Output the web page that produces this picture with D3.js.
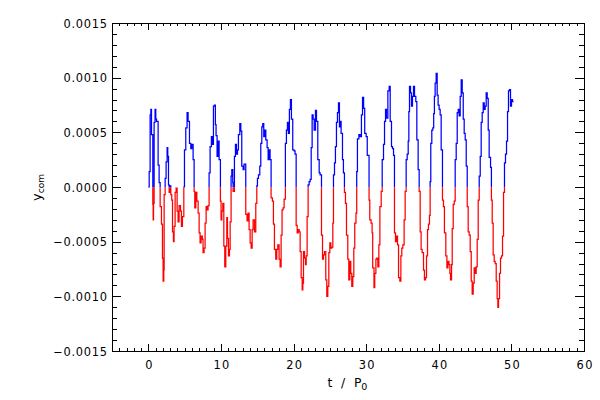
<!DOCTYPE html>
<html><head><meta charset="utf-8">
<script src="https://cdn.jsdelivr.net/npm/d3@7"></script>
<style>html,body{margin:0;padding:0;background:#fff;} svg{display:block;}</style>
</head><body>
<svg id="chart" width="600" height="400"></svg>
<script>
// time (t / P0) at which each step level begins
const tTime = [
  0, 0.12, 0.25, 0.35, 0.44, 0.62, 0.67, 0.72, 0.8, 0.93, 1.03, 1.13, 1.35, 1.49, 1.63, 1.81, 1.95, 2.04, 2.13,
  2.18, 2.32, 2.45, 2.59, 2.68, 2.78, 2.87, 3.0, 3.1, 3.23, 3.33, 3.46, 3.55, 3.69, 3.83, 3.97, 4.1, 4.24, 4.43, 4.56, 4.7,
  4.89, 4.98, 5.16, 5.34, 5.48, 5.67, 5.85, 5.99, 6.17, 6.31, 6.4, 6.54, 6.68, 6.86, 7.0, 7.13, 7.27, 7.45, 7.54, 7.68, 7.82, 7.96, 8.1, 8.23,
  8.37, 8.51, 8.69, 8.83, 8.97, 9.1, 9.24, 9.33, 9.47, 9.61, 9.75, 9.93, 10.02, 10.12, 10.26, 10.4, 10.53, 10.67, 10.81, 10.9, 11.04, 11.18, 11.27,
  11.4, 11.5, 11.63, 11.68, 11.86, 12.0, 12.14, 12.28, 12.41, 12.6, 12.74, 12.87, 13.06, 13.19, 13.42, 13.6, 13.74, 13.88, 14.02, 14.16, 14.3, 14.43, 14.62, 14.8,
  14.94, 15.03, 15.17, 15.35, 15.49, 15.63, 15.76, 15.9, 16.04, 16.18, 16.36, 16.5, 16.63, 16.77, 16.91, 17.09, 17.23, 17.37, 17.55, 17.69, 17.83, 18.01, 18.15, 18.29, 18.42, 18.56, 18.7,
  18.88, 19.02, 19.16, 19.29, 19.43, 19.57, 19.71, 19.89, 20.07, 20.21, 20.36, 20.5, 20.64, 20.78, 20.91, 21.05, 21.19, 21.28, 21.37, 21.51, 21.65, 21.74, 21.87,
  22.01, 22.15, 22.29, 22.43, 22.56, 22.7, 22.84, 23.02, 23.16, 23.34, 23.53, 23.66, 23.85, 23.99, 24.12, 24.26, 24.44, 24.58, 24.72, 24.86, 25.0, 25.13, 25.27, 25.41,
  25.5, 25.64, 25.77, 25.91, 26.05, 26.19, 26.32, 26.46, 26.55, 26.74, 26.87, 27.01, 27.15, 27.29, 27.47, 27.61, 27.75, 27.88, 28.02, 28.16, 28.3, 28.43, 28.6,
  28.7, 28.8, 29.0, 29.17, 29.35, 29.5, 29.65, 29.8, 30.0, 30.15, 30.4, 30.5, 30.68, 30.82, 30.9, 31.08, 31.18, 31.34, 31.47, 31.61, 31.75, 31.89, 32.07,
  32.21, 32.39, 32.53, 32.67, 32.8, 32.99, 33.17, 33.31, 33.49, 33.63, 33.77, 33.9, 34.04, 34.18, 34.32, 34.46, 34.64, 34.78, 34.91, 35.05, 35.23, 35.37,
  35.51, 35.65, 35.79, 35.88, 35.97, 36.11, 36.24, 36.38, 36.52, 36.66, 36.84, 36.98, 37.16, 37.3, 37.44, 37.57, 37.71, 37.9, 38.03, 38.17, 38.31, 38.45, 38.58, 38.72,
  38.81, 38.9, 39.04, 39.18, 39.3, 39.4, 39.5, 39.64, 39.78, 39.91, 40.05, 40.19, 40.33, 40.51, 40.65, 40.78, 40.97, 41.12, 41.26, 41.4, 41.53, 41.62, 41.76, 41.85, 41.99, 42.13,
  42.26, 42.4, 42.54, 42.68, 42.81, 42.95, 43.09, 43.23, 43.37, 43.5, 43.64, 43.78, 43.92, 44.05, 44.19, 44.33, 44.47, 44.6, 44.74, 44.88, 45.02, 45.15, 45.29, 45.43,
  45.57, 45.71, 45.84, 45.98, 46.12, 46.26, 46.39, 46.53, 46.67, 46.81, 46.94, 47.13, 47.25, 47.36, 47.49, 47.63, 47.77, 47.91, 48.04, 48.14, 48.23, 48.37, 48.5, 48.64, 48.78,
  48.92, 49.05, 49.19, 49.33, 49.47, 49.6, 49.74, 49.88, 50.02, 50.16, 50.3
];
// y_com value of each step
const yCom = [
  0, 1.4e-4, 6.6e-4, 7.1e-4, 4.8e-4, -1.6e-4, -3.0e-4, -1.5e-4, 5.9e-4, 7.1e-4, 6.2e-4, 6.0e-4, 2.0e-4, 0.4e-4, -1.8e-4, -3.4e-4, -6.5e-4, -8.6e-4, -7.6e-4,
  -0.7e-4, 0.8e-4, 2.3e-4, 3.6e-4, 2.8e-4, 0.2e-4, -0.5e-4, 0.1e-4, -0.7e-4, -1.2e-4, -4.1e-4, -5.0e-4, -3.6e-4, -0.5e-4, -0.1e-4, -2.2e-4, -3.2e-4, -1.7e-4, -2.2e-4, -3.6e-4, -2.7e-4,
  0, 3.4e-4, 5.4e-4, 6.8e-4, 6.0e-4, 4.0e-4, 3.5e-4, 3.9e-4, 2.5e-4, -0.4e-4, -1.9e-4, -0.5e-4, -1.3e-4, -2.4e-4, -4.2e-4, -5.1e-4, -4.5e-4, -4.8e-4, -6.0e-4, -5.6e-4, -3.3e-4, -1.8e-4, -2.1e-4, -1.7e-4,
  1.3e-4, 3.7e-4, 4.6e-4, 3.9e-4, 7.4e-4, 7.5e-4, 5.7e-4, 4.7e-4, 2.8e-4, 4.2e-4, 2.5e-4, -1.3e-4, -3.0e-4, -2.2e-4, -1.5e-4, -5.4e-4, -7.3e-4, -5.4e-4, -2.8e-4, -4.7e-4, -6.3e-4, -5.7e-4, -3.2e-4,
  1.0e-4, 1.6e-4, 0.4e-4, -0.4e-4, 2.8e-4, 3.9e-4, 3.0e-4, 3.4e-4, 4.8e-4, 5.8e-4, 5.1e-4, 1.9e-4, 1.6e-4, 2.1e-4, -2.5e-4, -3.1e-4, -2.4e-4, -3.9e-4, -5.1e-4, -5.6e-4, -3.9e-4, -3.0e-4, -4.1e-4, -1.5e-4,
  0.1e-4, 0.8e-4, 1.1e-4, 1.9e-4, 4.0e-4, 5.5e-4, 5.8e-4, 4.6e-4, 5.2e-4, 4.3e-4, 3.6e-4, 2.5e-4, 3.4e-4, 2.5e-4, -1.0e-4, -1.3e-4, -3.4e-4, -5.7e-4, -6.6e-4, -5.7e-4, -5.3e-4, -6.6e-4, -7.3e-4, -4.4e-4, -2.1e-4, -1.9e-4, -1.1e-4,
  4.0e-4, 5.2e-4, 5.9e-4, 4.9e-4, 7.1e-4, 8.0e-4, 6.2e-4, 3.4e-4, 3.3e-4, 3.0e-4, -3.5e-4, -4.2e-4, -3.9e-4, -4.1e-4, -5.9e-4, -8.3e-4, -9.4e-4, -8.8e-4, -5.9e-4, -6.5e-4, -7.1e-4, -6.3e-4, -2.7e-4,
  0.2e-4, 0.5e-4, 0.7e-4, 3.6e-4, 6.6e-4, 6.2e-4, 5.2e-4, 7.0e-4, 6.0e-4, 2.5e-4, 1.3e-4, 1.1e-4, -4.4e-4, -6.6e-4, -6.2e-4, -5.9e-4, -8.5e-4, -10.0e-4, -9.1e-4, -6.0e-4, -5.1e-4, -5.6e-4, -5.5e-4, -3.3e-4,
  1.1e-4, 2.2e-4, 3.7e-4, 5.9e-4, 6.8e-4, 7.7e-4, 5.5e-4, 6.0e-4, 4.9e-4, 2.5e-4, 1.3e-4, -0.5e-4, -1.5e-4, -4.4e-4, -6.6e-4, -8.5e-4, -6.8e-4, -7.9e-4, -9.1e-4, -8.2e-4, -5.6e-4, -3.3e-4, -2.4e-4,
  1.4e-4, 4.4e-4, 4.8e-4, 4.6e-4, 6.6e-4, 8.2e-4, 7.2e-4, 4.9e-4, 4.6e-4, 2.9e-4, -1.2e-4, -3.0e-4, -3.3e-4, -4.2e-4, -7.4e-4, -9.2e-4, -7.9e-4, -6.6e-4, -6.5e-4, -7.3e-4, -5.3e-4, -1.8e-4, -0.4e-4,
  2.5e-4, 3.9e-4, 6.0e-4, 7.1e-4, 6.3e-4, 8.8e-4, 9.2e-4, 6.0e-4, 3.7e-4, 3.5e-4, 2.9e-4, -4.2e-4, -5.0e-4, -4.5e-4, -5.3e-4, -8.3e-4, -8.6e-4, -6.3e-4, -5.6e-4, -5.3e-4, -3.0e-4, -0.4e-4,
  2.5e-4, 3.0e-4, 4.2e-4, 6.9e-4, 9.2e-4, 8.6e-4, 7.4e-4, 8.3e-4, 9.2e-4, 8.3e-4, 7.8e-4, 4.3e-4, 1.6e-4, -0.4e-4, -4.1e-4, -5.7e-4, -6.0e-4, -7.6e-4, -8.5e-4, -8.3e-4, -6.3e-4, -3.9e-4, -3.4e-4, -2.6e-4,
  0.5e-4, 4.0e-4, 5.2e-4, 5.4e-4, 6.7e-4, 8.3e-4, 9.5e-4, 10.4e-4, 8.4e-4, 7.5e-4, 7.1e-4, 6.6e-4, 3.4e-4, -1.2e-4, -1.8e-4, -4.2e-4, -6.3e-4, -7.4e-4, -6.8e-4, -7.1e-4, -7.9e-4, -8.5e-4, -7.1e-4, -3.8e-4, -1.6e-4, -1.3e-4,
  2.5e-4, 4.0e-4, 6.8e-4, 7.1e-4, 6.5e-4, 8.3e-4, 9.8e-4, 8.6e-4, 6.2e-4, 4.9e-4, 4.3e-4, 1.9e-4, -1.8e-4, -4.1e-4, -4.4e-4, -5.9e-4, -8.6e-4, -9.8e-4, -8.8e-4, -7.4e-4, -7.9e-4, -7.3e-4, -4.8e-4, -1.2e-4,
  1.0e-4, 2.8e-4, 5.9e-4, 6.8e-4, 7.7e-4, 7.1e-4, 7.4e-4, 8.6e-4, 8.1e-4, 5.2e-4, 2.7e-4, 1.8e-4, -1.2e-4, -3.3e-4, -6.2e-4, -6.8e-4, -7.0e-4, -8.6e-4, -10.2e-4, -11.0e-4, -10.2e-4, -7.9e-4, -6.5e-4, -6.3e-4, -4.5e-4,
  -0.5e-4, 2.2e-4, 3.0e-4, 4.2e-4, 6.9e-4, 8.8e-4, 8.9e-4, 7.4e-4, 8.0e-4, 7.8e-4, 7.8e-4
];
const xTickValues = [0, 10, 20, 30, 40, 50, 60];
const yTickValues = [-0.0015, -0.0010, -0.0005, 0, 0.0005, 0.0010, 0.0015];
const xDomain = [-5, 60];
const yDomain = [-0.0015, 0.0015];
const xMinorStep = 1;
const yMinorStep = 0.0001;

const svg = d3.select('#chart');
const L = 112, R = 584, T = 23, B = 351;
const FONT = "'DejaVu Sans', sans-serif";

const x = d3.scaleLinear().domain(xDomain).range([L, R]);
const y = d3.scaleLinear().domain(yDomain).range([B, T]);

const data = tTime.map((t, i) => ({t, v: yCom[i]}));

// clip regions: blue above zero, red below zero
const defs = svg.append('defs');
const y0 = y(0) + 0.5;
defs.append('clipPath').attr('id', 'clipPos').append('rect')
  .attr('x', L).attr('y', T).attr('width', R - L).attr('height', y0 - T);
defs.append('clipPath').attr('id', 'clipNeg').append('rect')
  .attr('x', L).attr('y', y0).attr('width', R - L).attr('height', B - y0);

const line = d3.line().x(d => x(d.t)).y(d => y(d.v)).curve(d3.curveStepAfter);

svg.append('path').datum(data).attr('d', line)
  .attr('fill', 'none').attr('stroke', '#0000ff').attr('stroke-width', 1.25)
  .attr('clip-path', 'url(#clipPos)');
svg.append('path').datum(data).attr('d', line)
  .attr('fill', 'none').attr('stroke', '#ff0000').attr('stroke-width', 1.25)
  .attr('clip-path', 'url(#clipNeg)');

// label widths mimicking the wide Hershey font
function labelLen(s) {
  let w = 0;
  for (const c of s) w += c === '.' ? 3.95 : (c === '\u2212' ? 10.3 : 7.9);
  return w;
}

function styleAxis(g) {
  g.select('.domain').remove();
  g.selectAll('line').attr('stroke', '#000').attr('shape-rendering', 'crispEdges');
  g.attr('font-family', FONT).attr('font-size', 11.4);
}

const xMinor = d3.range(xDomain[0], xDomain[1] + xMinorStep / 2, xMinorStep);
const yMinor = d3.range(-15, 16).map(k => k * yMinorStep);

// bottom axis
const gxB = svg.append('g').attr('transform', `translate(0,${B})`)
  .call(d3.axisBottom(x).tickValues(xTickValues).tickSize(-6.6).tickFormat(d3.format('d')));
styleAxis(gxB);
gxB.selectAll('text').attr('y', 17.7).attr('dy', null).attr('fill', '#000')
  .attr('text-anchor', 'middle')
  .each(function() { const s = this.textContent; d3.select(this).attr('textLength', labelLen(s)).attr('lengthAdjust', 'spacing'); });
const gxBm = svg.append('g').attr('transform', `translate(0,${B})`)
  .call(d3.axisBottom(x).tickValues(xMinor).tickSize(-3.3).tickFormat(''));
styleAxis(gxBm);

// top axis
const gxT = svg.append('g').attr('transform', `translate(0,${T})`)
  .call(d3.axisTop(x).tickValues(xTickValues).tickSize(-6.6).tickFormat(''));
styleAxis(gxT);
const gxTm = svg.append('g').attr('transform', `translate(0,${T})`)
  .call(d3.axisTop(x).tickValues(xMinor).tickSize(-3.3).tickFormat(''));
styleAxis(gxTm);

// left axis
const gyL = svg.append('g').attr('transform', `translate(${L},0)`)
  .call(d3.axisLeft(y).tickValues(yTickValues).tickSize(-9.4).tickFormat(d3.format('.4f')));
styleAxis(gyL);
gyL.selectAll('text').attr('x', -5).attr('dy', null).attr('y', 4.1).attr('fill', '#000')
  .attr('text-anchor', 'end')
  .each(function() { const s = this.textContent; d3.select(this).attr('textLength', labelLen(s)).attr('lengthAdjust', 'spacing'); });
const gyLm = svg.append('g').attr('transform', `translate(${L},0)`)
  .call(d3.axisLeft(y).tickValues(yMinor).tickSize(-4.7).tickFormat(''));
styleAxis(gyLm);

// right axis
const gyR = svg.append('g').attr('transform', `translate(${R},0)`)
  .call(d3.axisRight(y).tickValues(yTickValues).tickSize(-9.4).tickFormat(''));
styleAxis(gyR);
const gyRm = svg.append('g').attr('transform', `translate(${R},0)`)
  .call(d3.axisRight(y).tickValues(yMinor).tickSize(-4.7).tickFormat(''));
styleAxis(gyRm);

// plot box
svg.append('rect').attr('x', L + 0.5).attr('y', T + 0.5)
  .attr('width', R - L).attr('height', B - T)
  .attr('fill', 'none').attr('stroke', '#000').attr('stroke-width', 1)
  .attr('shape-rendering', 'crispEdges');

// x title: t / P0
svg.append('text').attr('x', 327.5).attr('y', 387)
  .attr('font-family', FONT).attr('font-size', 12.4).attr('fill', '#000')
  .attr('textLength', 34).attr('lengthAdjust', 'spacing')
  .text('t / P');
svg.append('text').attr('x', 361.3).attr('y', 389.5)
  .attr('font-family', FONT).attr('font-size', 9.5).attr('fill', '#000')
  .text('0');

// y title: y_com
const yt = svg.append('text').attr('transform', 'translate(40.5,201) rotate(-90)')
  .attr('font-family', FONT).attr('font-size', 13).attr('fill', '#000');
yt.append('tspan').text('y');
yt.append('tspan').attr('font-size', 9).attr('dy', 3.2).text('com');
</script>
</body></html>
